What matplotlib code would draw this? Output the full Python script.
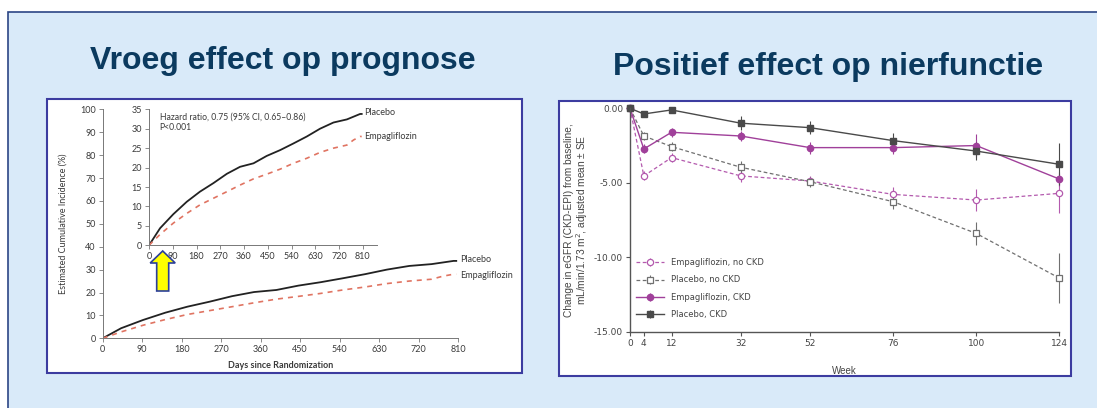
import matplotlib.pyplot as plt
from matplotlib.patches import Rectangle, FancyArrow

W, H = 1097, 408

# --- linker grafiek: cumulatieve incidentie (dagen) ---
days = [0, 42, 92, 143, 193, 244, 295, 345, 396, 446, 497, 547, 598, 648, 699, 750, 775, 800, 806]
placebo = [0, 4.4, 8.0, 11.2, 13.8, 16.0, 18.4, 20.2, 21.1, 23.0, 24.5, 26.2, 28.0, 30.0, 31.6, 32.4, 33.1, 33.8, 33.8]
empa = [0, 2.8, 5.7, 8.2, 10.4, 12.1, 13.8, 15.5, 17.1, 18.3, 19.6, 21.1, 22.4, 23.9, 25.0, 25.8, 27.1, 28.0, 28.0]
day_ticks = [0, 90, 180, 270, 360, 450, 540, 630, 720, 810]

# --- rechter grafiek: eGFR verandering (weken) ---
weeks = [0, 4, 12, 32, 52, 76, 100, 124]
empa_nockd = [0, -4.54, -3.31, -4.54, -4.88, -5.78, -6.16, -5.71]
empa_nockd_se = [0, 0.3, 0.3, 0.4, 0.35, 0.5, 0.75, 1.3]
plac_nockd = [0, -1.86, -2.57, -3.96, -4.93, -6.27, -8.40, -11.40]
plac_nockd_se = [0, 0.25, 0.3, 0.4, 0.35, 0.5, 0.75, 1.7]
empa_ckd = [0, -2.73, -1.61, -1.86, -2.64, -2.64, -2.50, -4.75]
empa_ckd_se = [0, 0.3, 0.3, 0.35, 0.4, 0.45, 0.75, 0.5]
plac_ckd = [0, -0.38, -0.11, -1.00, -1.30, -2.17, -2.87, -3.76]
plac_ckd_se = [0, 0.2, 0.2, 0.45, 0.42, 0.48, 0.6, 1.4]


def box(x0, y0, x1, y1):
    return [x0 / W, 1 - y1 / H, (x1 - x0) / W, (y1 - y0) / H]


fig = plt.figure(figsize=(W / 100, H / 100), dpi=100, facecolor='white')

# achtergrond
bg = fig.add_axes([0, 0, 1, 1], zorder=0)
bg.set_xlim(0, W)
bg.set_ylim(H, 0)
bg.axis('off')
bg.add_patch(Rectangle((8, 12), W + 10, H, facecolor='#d9eaf9', edgecolor='#2b4585', lw=1.2))
bg.add_patch(Rectangle((47, 99), 475, 274, facecolor='white', edgecolor='#3c3ca0', lw=1.5))
bg.add_patch(Rectangle((559, 101), 512, 275, facecolor='white', edgecolor='#3c3ca0', lw=1.5))
title_kw = dict(color='#0b3a5f', fontsize=23, fontweight='bold', family='Liberation Sans', ha='center')
bg.text(282.5, 69, 'Vroeg effect op prognose', va='baseline', **title_kw)
bg.text(828, 75, 'Positief effect op nierfunctie', va='baseline', **title_kw)

lf = 'Lato'
txt = '#3a3a3a'

# hoofdgrafiek links
ax = fig.add_axes(box(102.7, 109.3, 458, 338.3), zorder=1)
ax.set_facecolor('none')
ax.plot(days, placebo, color='#222222', lw=1.3)
ax.plot(days, empa, color='#e07462', lw=1.2, ls=(0, (3, 3)))
ax.set_xlim(0, 810)
ax.set_ylim(0, 100)
ax.set_xticks(day_ticks)
ax.set_yticks(range(0, 101, 10))
for s in ['top', 'right']:
    ax.spines[s].set_visible(False)
for s in ['left', 'bottom']:
    ax.spines[s].set_color('#777777')
    ax.spines[s].set_linewidth(0.7)
ax.tick_params(labelsize=6.5, colors='#777777', labelcolor=txt, length=3, width=0.6, pad=2)
for lab in ax.get_xticklabels() + ax.get_yticklabels():
    lab.set_family(lf)
ax.set_xlabel('Days since Randomization', fontsize=6.5, fontweight='bold', family=lf, color=txt, labelpad=5)
ax.set_ylabel('Estimated Cumulative Incidence (%)', fontsize=6.5, family=lf, color=txt, labelpad=9)
ax.text(815, placebo[-1] + 0.4, 'Placebo', fontsize=6.5, family=lf, color=txt, va='center', clip_on=False)
ax.text(815, empa[-1] - 0.4, 'Empagliflozin', fontsize=6.5, family=lf, color=txt, va='center', clip_on=False)

# inzet
ins = fig.add_axes(box(149, 109.3, 377, 245.3), zorder=2)
ins.set_facecolor('none')
ins.plot(days, placebo, color='#222222', lw=1.3)
ins.plot(days, empa, color='#e07462', lw=1.2, ls=(0, (3, 3)))
ins.set_xlim(0, 864)
ins.set_ylim(0, 35)
ins.set_xticks(day_ticks)
ins.set_yticks(range(0, 36, 5))
for s in ['top', 'right']:
    ins.spines[s].set_visible(False)
for s in ['left', 'bottom']:
    ins.spines[s].set_color('#777777')
    ins.spines[s].set_linewidth(0.7)
ins.tick_params(labelsize=6.5, colors='#777777', labelcolor=txt, length=3, width=0.6, pad=2)
for lab in ins.get_xticklabels() + ins.get_yticklabels():
    lab.set_family(lf)
ins.text(40, 34.2, 'Hazard ratio, 0.75 (95% CI, 0.65\u20130.86)\nP<0.001', fontsize=6.2,
         family=lf, color=txt, va='top', linespacing=1.25)
ins.text(815, placebo[-1] + 0.3, 'Placebo', fontsize=6.5, family=lf, color=txt, va='center')
ins.text(815, empa[-1], 'Empagliflozin', fontsize=6.5, family=lf, color=txt, va='center')

# rechter grafiek
ar = fig.add_axes(box(630, 108.3, 1059.3, 331.7), zorder=1)
ar.set_facecolor('none')
purple = '#a0409a'
lpurple = '#b45aae'
dgray = '#4a4a4a'
lgray = '#707070'
ar.errorbar(weeks, empa_nockd, yerr=empa_nockd_se, color=lpurple, ls=(0, (3, 2)), lw=0.9,
            marker='o', ms=4.5, mfc='white', mec=lpurple, mew=0.9, ecolor=lpurple, elinewidth=0.8,
            capsize=0, label='Empagliflozin, no CKD', clip_on=False)
ar.errorbar(weeks, plac_nockd, yerr=plac_nockd_se, color=lgray, ls=(0, (3, 2)), lw=0.9,
            marker='s', ms=4.5, mfc='white', mec=lgray, mew=0.9, ecolor=lgray, elinewidth=0.8,
            capsize=0, label='Placebo, no CKD', clip_on=False)
ar.errorbar(weeks, empa_ckd, yerr=empa_ckd_se, color=purple, ls='-', lw=1.0,
            marker='o', ms=4.5, mfc=purple, mec=purple, ecolor=purple, elinewidth=0.8,
            capsize=0, label='Empagliflozin, CKD', clip_on=False)
ar.errorbar(weeks, plac_ckd, yerr=plac_ckd_se, color=dgray, ls='-', lw=1.0,
            marker='s', ms=4.5, mfc=dgray, mec=dgray, ecolor=dgray, elinewidth=0.8,
            capsize=0, label='Placebo, CKD', clip_on=False)
ar.set_xlim(0, 124)
ar.set_ylim(-15, 0)
ar.set_xticks(weeks)
ar.set_yticks([0, -5, -10, -15])
ar.set_yticklabels(['0.00', '-5.00', '-10.00', '-15.00'])
for s in ['top', 'right']:
    ar.spines[s].set_visible(False)
for s in ['left', 'bottom']:
    ar.spines[s].set_color('#555555')
    ar.spines[s].set_linewidth(1.0)
ar.tick_params(labelsize=6.5, colors='#555555', labelcolor='#444444', length=3, width=0.8, pad=2)
ar.set_xlabel('Week', fontsize=7, color='#444444', labelpad=13, family='Liberation Sans')
ar.set_ylabel('Change in eGFR (CKD-EPI) from baseline,\nmL/min/1.73 m$^2$, adjusted mean \u00b1 SE',
              fontsize=7.3, color='#444444', labelpad=3, family='Liberation Sans', linespacing=1.0)
leg = ar.legend(loc='lower left', bbox_to_anchor=(0.0, 0.03), frameon=False, fontsize=6,
                handlelength=3.4, labelspacing=1.0, borderaxespad=0.3)
for t in leg.get_texts():
    t.set_color('#444444')

# gele pijl
top = fig.add_axes([0, 0, 1, 1], zorder=5)
top.set_facecolor('none')
top.set_xlim(0, W)
top.set_ylim(H, 0)
top.axis('off')
top.add_patch(FancyArrow(162.7, 291, 0, -40, width=12, head_width=25, head_length=12,
                         length_includes_head=True, facecolor='#ffff00', edgecolor='#2b3f9a', lw=1.2))

fig.savefig('out.png', dpi=100, facecolor='white')
